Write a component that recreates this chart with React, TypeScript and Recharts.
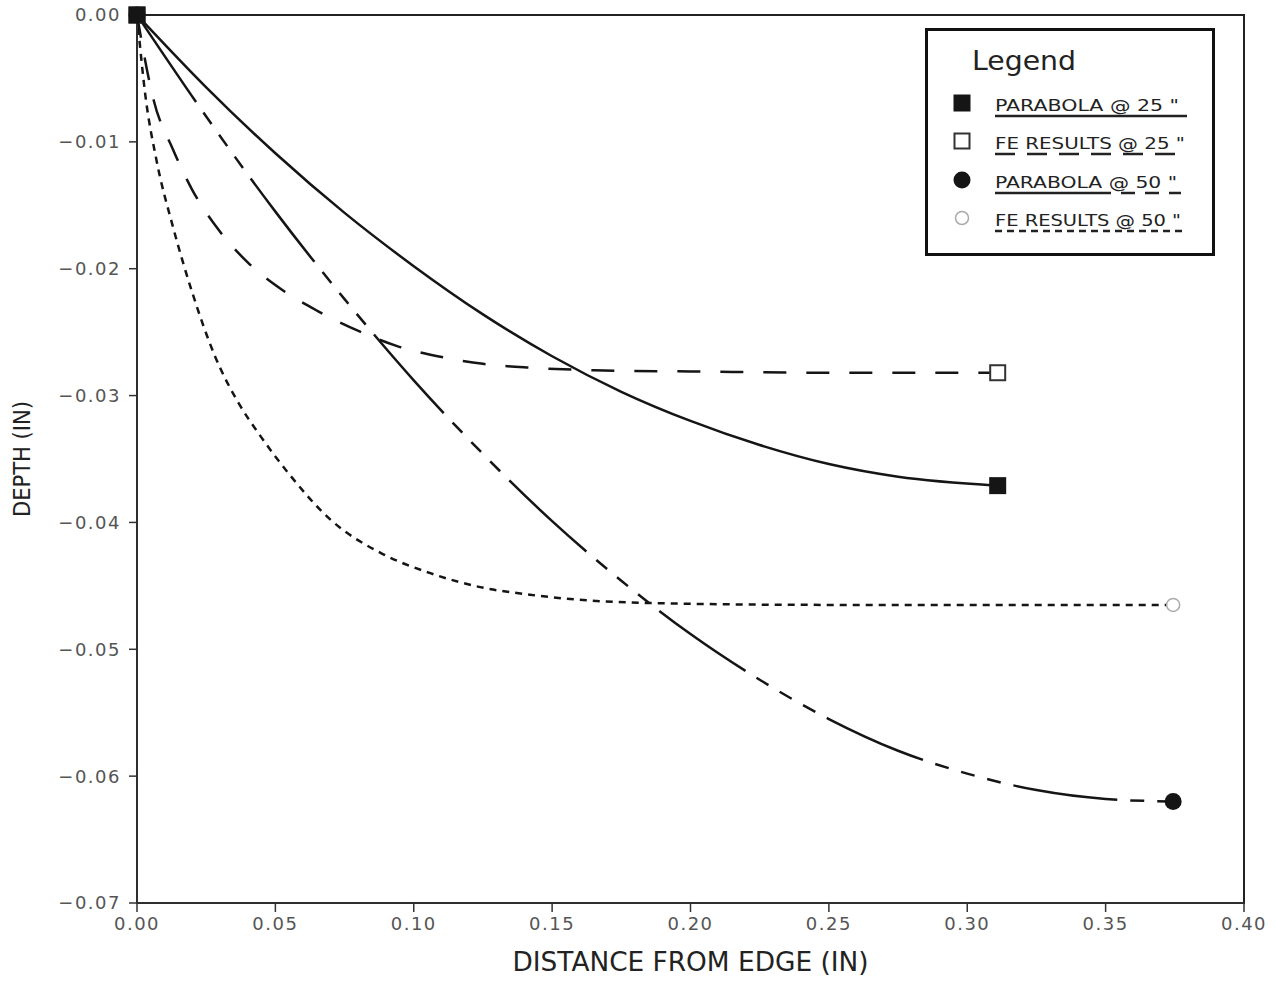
import React from "react";
import { LineChart, Line, XAxis, YAxis, ReferenceArea, Legend } from "recharts";

// axis ticks
const xTicks = [0, 0.05, 0.1, 0.15, 0.2, 0.25, 0.3, 0.35, 0.4];
const yTicks = [0, -0.01, -0.02, -0.03, -0.04, -0.05, -0.06, -0.07];

// PARABOLA @ 25"
const para25X = [0, 0.025, 0.05, 0.075, 0.1, 0.125, 0.15, 0.175, 0.2, 0.225, 0.25, 0.275, 0.311];
const para25Y = [0, -0.0057, -0.0109, -0.0156, -0.0198, -0.0236, -0.0269, -0.0297, -0.032, -0.0339, -0.0354, -0.0364, -0.0371];

// FE RESULTS @ 25"
const fe25X = [0, 0.006, 0.013, 0.02, 0.029, 0.04, 0.052, 0.065, 0.08, 0.094, 0.111, 0.125, 0.142, 0.165, 0.2, 0.25, 0.311];
const fe25Y = [0, -0.0067, -0.0106, -0.0138, -0.0168, -0.0195, -0.0216, -0.0233, -0.0249, -0.0261, -0.027, -0.0275, -0.0278, -0.028, -0.0281, -0.0282, -0.0282];

// PARABOLA @ 50"
const para50X = [0, 0.025, 0.05, 0.075, 0.1, 0.125, 0.15, 0.175, 0.2, 0.225, 0.25, 0.275, 0.3, 0.325, 0.35, 0.3744];
const para50Y = [0, -0.008, -0.0155, -0.0224, -0.0288, -0.0346, -0.0399, -0.0446, -0.0488, -0.0524, -0.0555, -0.058, -0.0598, -0.0611, -0.0618, -0.062];

// FE RESULTS @ 50"
const fe50X = [0, 0.003, 0.007, 0.013, 0.02, 0.028, 0.037, 0.044, 0.055, 0.07, 0.088, 0.106, 0.124, 0.142, 0.16, 0.196, 0.25, 0.3744];
const fe50Y = [0, -0.0063, -0.0114, -0.0167, -0.0219, -0.0268, -0.0307, -0.033, -0.0362, -0.0398, -0.0424, -0.044, -0.0451, -0.0457, -0.0461, -0.0464, -0.0465, -0.0465];

const toPoints = (xs: number[], ys: number[]) => xs.map((x, i) => ({ x, y: ys[i] }));

const para25 = toPoints(para25X, para25Y);
const fe25 = toPoints(fe25X, fe25Y);
const para50 = toPoints(para50X, para50Y);
const fe50 = toPoints(fe50X, fe50Y);

const INK = "#151515";
const FONT = "DejaVu Sans";

const DASH_FE25 = "23 20";
const DASH_PARA50 = "105 13 14 13 14 13 14 13";
const DASH_FE50 = "7 6";

type Shape = "square" | "squareOpen" | "circle" | "circleOpen";

function Marker({ shape, cx, cy }: { shape: Shape; cx: number; cy: number }) {
  if (shape === "square") return <rect x={cx - 8.5} y={cy - 8.5} width={17} height={17} fill={INK} />;
  if (shape === "squareOpen")
    return <rect x={cx - 7.5} y={cy - 7.5} width={15} height={15} fill="#fff" stroke="#333" strokeWidth={2} />;
  if (shape === "circle") return <circle cx={cx} cy={cy} r={8.5} fill={INK} />;
  return <circle cx={cx} cy={cy} r={6.5} fill="#fff" stroke="#aaa" strokeWidth={1.5} />;
}

// markers only at the two ends of each curve
const endDot = (shape: Shape, n: number) => (props: any) => {
  const { cx, cy, index } = props;
  if (index !== 0 && index !== n - 1) return <g key={`d-${shape}-${index}`} />;
  return (
    <g key={`d-${shape}-${index}`}>
      <Marker shape={shape} cx={cx} cy={cy} />
    </g>
  );
};

const entries: { label: string; shape: Shape; dash?: string; len: number; line: number }[] = [
  { label: 'PARABOLA @ 25 "', shape: "square", len: 184, line: 192 },
  { label: 'FE RESULTS @ 25 "', shape: "squareOpen", dash: "20 12", len: 190, line: 192 },
  { label: 'PARABOLA @ 50 "', shape: "circle", dash: "116 10 14 10 14 10", len: 182, line: 186 },
  { label: 'FE RESULTS @ 50 "', shape: "circleOpen", dash: "7 5", len: 186, line: 190 },
];

function LegendBox() {
  const rows = [75, 113, 152, 190];
  return (
    <svg width={292} height={230} style={{ display: "block" }}>
      <rect x={1.5} y={1.5} width={287} height={225} fill="#fff" stroke="#111" strokeWidth={3} />
      <text x={47} y={42} fontFamily={FONT} fontSize={27} fill="#222" textLength={104} lengthAdjust="spacingAndGlyphs">
        Legend
      </text>
      {entries.map((e, i) => (
        <g key={e.label}>
          <Marker shape={e.shape} cx={37} cy={rows[i]} />
          <text
            x={70}
            y={rows[i] + 8}
            fontFamily={FONT}
            fontSize={16}
            fill="#222"
            textLength={e.len}
            lengthAdjust="spacingAndGlyphs"
          >
            {e.label}
          </text>
          <line
            x1={70}
            x2={70 + e.line}
            y1={rows[i] + 13}
            y2={rows[i] + 13}
            stroke="#222"
            strokeWidth={2.5}
            strokeDasharray={e.dash}
          />
        </g>
      ))}
    </svg>
  );
}

function XTitle(props: any) {
  const vb = props.viewBox || { x: 137, y: 903, width: 1107 };
  return (
    <text
      x={vb.x + vb.width / 2}
      y={vb.y + 68}
      textAnchor="middle"
      fontFamily={FONT}
      fontSize={27}
      fill="#222"
      textLength={356}
      lengthAdjust="spacingAndGlyphs"
    >
      DISTANCE FROM EDGE (IN)
    </text>
  );
}

function YTitle(props: any) {
  const vb = props.viewBox || { x: 0, y: 15, height: 888 };
  const cx = vb.x + 30;
  const cy = vb.y + vb.height / 2;
  return (
    <text
      x={cx}
      y={cy}
      transform={`rotate(-90 ${cx} ${cy})`}
      textAnchor="middle"
      fontFamily={FONT}
      fontSize={23}
      fill="#222"
      textLength={116}
      lengthAdjust="spacingAndGlyphs"
    >
      DEPTH (IN)
    </text>
  );
}

const fmtY = (v: number) => (v === 0 ? "0.00" : "\u2212" + Math.abs(v).toFixed(2));
const fmtX = (v: number) => v.toFixed(2);

const tickStyle = { fontFamily: FONT, fontSize: 18, fill: "#555", letterSpacing: 1.5 };

export default function App() {
  return (
    <div style={{ position: "absolute", left: 0, top: 0, width: 1276, height: 981, background: "#fff" }}>
      <LineChart width={1276} height={981} margin={{ top: 15, right: 32, bottom: 38, left: 0 }}>
        <XAxis
          type="number"
          dataKey="x"
          domain={[0, 0.4]}
          ticks={xTicks}
          tickFormatter={fmtX}
          height={40}
          tickSize={9}
          tickMargin={5}
          tick={tickStyle}
          stroke="#333"
          strokeWidth={1.5}
          label={<XTitle />}
        />
        <YAxis
          type="number"
          dataKey="y"
          domain={[-0.07, 0]}
          ticks={yTicks}
          tickFormatter={fmtY}
          width={137}
          tickSize={8}
          tickMargin={8}
          tick={tickStyle}
          stroke="#333"
          strokeWidth={1.5}
          label={<YTitle />}
        />
        <ReferenceArea x1={0} x2={0.4} y1={-0.07} y2={0} fill="none" stroke="#222" strokeWidth={2} ifOverflow="visible" />
        <Legend
          layout="horizontal"
          verticalAlign="middle"
          align="center"
          wrapperStyle={{ left: 925, top: 28, width: 292, height: 230 }}
          content={() => <LegendBox />}
        />
        <Line
          data={fe50}
          dataKey="y"
          type="monotone"
          stroke={INK}
          strokeWidth={2.5}
          strokeDasharray={DASH_FE50}
          dot={endDot("circleOpen", fe50.length)}
          activeDot={false}
          isAnimationActive={false}
        />
        <Line
          data={fe25}
          dataKey="y"
          type="monotone"
          stroke={INK}
          strokeWidth={2.5}
          strokeDasharray={DASH_FE25}
          dot={endDot("squareOpen", fe25.length)}
          activeDot={false}
          isAnimationActive={false}
        />
        <Line
          data={para50}
          dataKey="y"
          type="monotone"
          stroke={INK}
          strokeWidth={2.5}
          strokeDasharray={DASH_PARA50}
          dot={endDot("circle", para50.length)}
          activeDot={false}
          isAnimationActive={false}
        />
        <Line
          data={para25}
          dataKey="y"
          type="monotone"
          stroke={INK}
          strokeWidth={2.5}
          dot={endDot("square", para25.length)}
          activeDot={false}
          isAnimationActive={false}
        />
      </LineChart>
    </div>
  );
}
